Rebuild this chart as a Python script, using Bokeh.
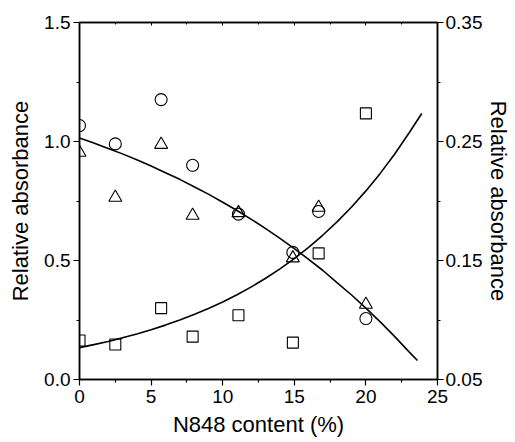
from bokeh.plotting import figure
from bokeh.models import Range1d, LinearAxis, FixedTicker, PrintfTickFormatter
from bokeh.embed import file_html
from bokeh.resources import INLINE

# data (x = N848 content %)
x_pts = [0, 2.5, 5.7, 7.9, 11.1, 14.9, 16.7, 20.0]
circles = [1.067, 0.99, 1.176, 0.90, 0.695, 0.534, 0.706, 0.256]
triangles = [0.954, 0.765, 0.987, 0.689, 0.70, 0.51, 0.723, 0.315]
squares_right = [0.0828, 0.0794, 0.110, 0.086, 0.104, 0.081, 0.156, 0.2736]

# fitted curves
fit_dec_x = [0, 1, 2, 3, 4, 5, 6, 7, 8, 9, 10, 11, 12, 13, 14, 15, 16, 17, 18, 19, 20, 21, 22, 23, 23.6]
fit_dec_y = [1.015, 0.994, 0.971, 0.948, 0.923, 0.897, 0.869, 0.841, 0.810, 0.779, 0.745, 0.710,
             0.673, 0.634, 0.593, 0.550, 0.505, 0.458, 0.406, 0.355, 0.300, 0.242, 0.181, 0.117, 0.080]
fit_inc_x = [0, 1, 2, 3, 4, 5, 6, 7, 8, 9, 10, 11, 12, 13, 14, 15, 16, 17, 18, 19, 20, 21, 22, 23, 23.9]
fit_inc_y = [0.0768, 0.0793, 0.0820, 0.0850, 0.0882, 0.0918, 0.0957, 0.0999, 0.1046, 0.1096, 0.1152,
             0.1212, 0.1278, 0.1351, 0.1430, 0.1516, 0.1611, 0.1714, 0.1827, 0.1950, 0.2085, 0.2232,
             0.2393, 0.2569, 0.2735]

x_ticks = [0, 5, 10, 15, 20, 25]
x_minor = [2.5, 7.5, 12.5, 17.5, 22.5]
yl_ticks = [0, 0.5, 1.0, 1.5]
yl_minor = [0.25, 0.75, 1.25]
yr_ticks = [0.05, 0.15, 0.25, 0.35]
yr_minor = [0.10, 0.20, 0.30]

FONT = "Liberation Sans"

p = figure(width=515, height=442, output_backend="svg", toolbar_location=None,
           x_range=Range1d(0, 25), y_range=Range1d(0, 1.5),
           min_border_left=79, min_border_right=78, min_border_top=22, min_border_bottom=63,
           x_axis_location=None, y_axis_location=None)
p.extra_y_ranges = {"right": Range1d(0.05, 0.35)}
p.grid.visible = False
p.background_fill_color = "white"
p.border_fill_color = "white"
p.outline_line_color = "black"
p.outline_line_width = 1.5

def style(ax, label, fmt=None):
    ax.axis_label = label
    ax.axis_label_text_font = FONT
    ax.axis_label_text_font_size = "22px"
    ax.axis_label_text_font_style = "normal"
    ax.axis_label_text_color = "black"
    ax.major_label_text_font = FONT
    ax.major_label_text_font_size = "19px"
    ax.major_label_text_color = "black"
    ax.axis_line_color = "black"
    ax.axis_line_width = 1.5
    ax.major_tick_line_color = "black"
    ax.minor_tick_line_color = "black"
    ax.major_tick_line_width = 1.2
    ax.minor_tick_line_width = 1.2
    ax.major_tick_out = 6
    ax.major_tick_in = 0
    ax.minor_tick_out = 3
    ax.minor_tick_in = 0
    if fmt:
        ax.formatter = PrintfTickFormatter(format=fmt)

bottom = LinearAxis(ticker=FixedTicker(ticks=x_ticks, minor_ticks=x_minor))
style(bottom, "N848 content (%)")
bottom.major_label_standoff = 4
bottom.axis_label_standoff = 6
p.add_layout(bottom, "below")

left = LinearAxis(ticker=FixedTicker(ticks=yl_ticks, minor_ticks=yl_minor))
style(left, "Relative absorbance", "%.1f")
left.major_label_standoff = 3
left.axis_label_standoff = 8
p.add_layout(left, "left")

right = LinearAxis(y_range_name="right", ticker=FixedTicker(ticks=yr_ticks, minor_ticks=yr_minor))
style(right, "Relative absorbance", "%.2f")
right.major_label_standoff = 2
right.axis_label_standoff = 1
p.add_layout(right, "right")

top = LinearAxis(ticker=FixedTicker(ticks=x_ticks, minor_ticks=x_minor))
top.major_label_text_font_size = "0px"
top.major_label_text_color = None
top.axis_line_color = "black"
top.axis_line_width = 1.5
top.major_tick_in = 3
top.major_tick_out = 0
top.minor_tick_in = 2
top.minor_tick_out = 0
top.major_tick_line_color = "black"
top.minor_tick_line_color = "black"
top.major_label_standoff = 0
p.add_layout(top, "above")

p.line(fit_dec_x, fit_dec_y, line_color="black", line_width=1.6)
p.line(fit_inc_x, fit_inc_y, line_color="black", line_width=1.6, y_range_name="right")

p.scatter(x_pts, circles, marker="circle", size=12, fill_color=None,
          line_color="black", line_width=1.1)
p.scatter(x_pts, triangles, marker="triangle", size=13, fill_color=None,
          line_color="black", line_width=1.1)
p.scatter(x_pts, squares_right, marker="square", size=11, fill_color=None,
          line_color="black", line_width=1.1, y_range_name="right")

open("out.html", "w").write(file_html(p, INLINE))
